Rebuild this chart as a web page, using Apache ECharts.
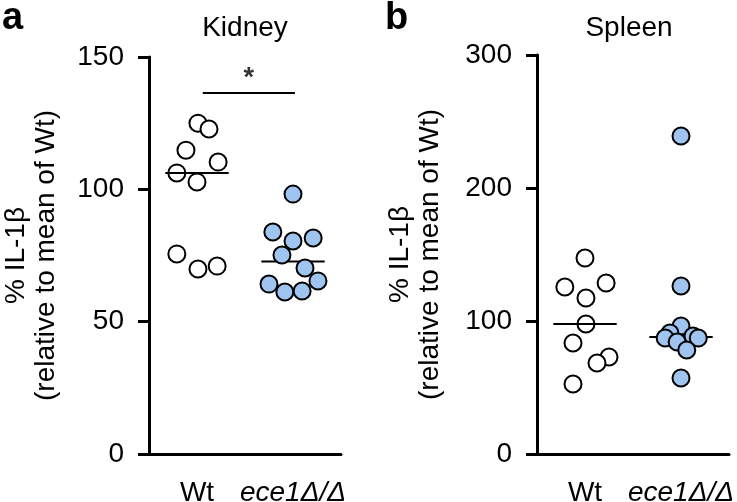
<!DOCTYPE html>
<html>
<head>
<meta charset="utf-8">
<script src="https://cdn.jsdelivr.net/npm/echarts@6/dist/echarts.min.js"></script>
<style>
  html, body { margin: 0; padding: 0; background: #fff; }
  #chart { width: 737px; height: 502px; }
</style>
</head>
<body>
<div id="chart"></div>
<script>
const groups = ['Wt', 'ece1Δ/Δ']

// Kidney (% IL-1β relative to mean of Wt)
const kidneyWt = [125.0, 122.8, 114.8, 110.3, 106.2, 102.8, 75.6, 69.9, 71.0]
const kidneyWtJitter = [0.01, 0.125, -0.115, 0.22, -0.21, 0, -0.21, 0.01, 0.21]
const kidneyKo = [98.2, 83.9, 80.5, 81.6, 75.2, 70.3, 64.2, 61.2, 61.6, 65.4]
const kidneyKoJitter = [0, -0.21, 0, 0.21, -0.115, 0.125, -0.25, -0.085, 0.095, 0.26]
const kidneyTicks = [0, 50, 100, 150]

// Spleen
const spleenWt = [147.4, 125.6, 128.6, 117.3, 97.7, 83.5, 72.9, 68.4, 52.6]
const spleenWtJitter = [0, -0.21, 0.22, 0.01, 0.01, -0.125, 0.25, 0.125, -0.125]
const spleenKo = [239.1, 126.3, 96.2, 91.0, 88.7, 87.2, 84.2, 87.2, 78.2, 57.1]
const spleenKoJitter = [0, 0, 0, -0.115, 0.125, -0.165, -0.04, 0.18, 0.06, 0]
const spleenTicks = [0, 100, 200, 300]

// significance bar between the kidney groups
const sigBar = { from: 0.06, to: 1.02, level: 136.4, text: '*' }

const FONT = 'Liberation Sans, Arial, Helvetica, sans-serif'
const BLUE = '#9fc4f0'

const median = (arr) => {
  const s = [...arr].sort((a, b) => a - b)
  const m = Math.floor(s.length / 2)
  return s.length % 2 ? s[m] : (s[m - 1] + s[m]) / 2
}

const points = (vals, jitter, idx) => vals.map((v, i) => [idx + jitter[i], v])

const yAxisBase = (ticks, gridIndex, nameGap) => ({
  type: 'value',
  gridIndex,
  min: ticks[0],
  max: ticks[ticks.length - 1],
  interval: ticks[1] - ticks[0],
  name: '% IL-1β\n(relative to mean of Wt)',
  nameLocation: 'middle',
  nameRotate: 90,
  nameGap,
  nameTextStyle: { fontFamily: FONT, fontSize: 28, lineHeight: 30, color: '#000' },
  axisLine: { show: true, onZero: false, lineStyle: { color: '#000', width: 3 } },
  axisTick: { show: true, length: 11, lineStyle: { color: '#000', width: 3 } },
  axisLabel: { fontFamily: FONT, fontSize: 28, color: '#000', margin: 25 },
  splitLine: { show: false },
})

const catAxis = (gridIndex) => ({
  type: 'category',
  gridIndex,
  data: groups,
  axisLine: { onZero: false, lineStyle: { color: '#000', width: 3 } },
  axisTick: { alignWithLabel: true, length: 11, lineStyle: { color: '#000', width: 3 } },
  axisLabel: {
    interval: 0,
    hideOverlap: false,
    fontFamily: FONT,
    fontSize: 28,
    color: '#000',
    margin: 25,
    formatter: (v) => (v === 'Wt' ? v : '{i|' + v + '}'),
    rich: { i: { fontFamily: FONT, fontSize: 28, fontStyle: 'italic', color: '#000' } },
  },
})

const valAxis = (gridIndex) => ({
  type: 'value',
  gridIndex,
  min: -0.5,
  max: 1.5,
  show: false,
})

const dotSeries = (data, xAxisIndex, yAxisIndex, fill, z) => ({
  type: 'scatter',
  xAxisIndex,
  yAxisIndex,
  data,
  symbol: 'circle',
  symbolSize: 17,
  z,
  itemStyle: { color: fill, borderColor: '#000', borderWidth: 2, opacity: 1 },
  emphasis: { disabled: true },
})

const medianSeries = (data, xAxisIndex, yAxisIndex) => ({
  type: 'custom',
  xAxisIndex,
  yAxisIndex,
  z: 3,
  data,
  renderItem(params, api) {
    const c = api.coord([api.value(0), api.value(1)])
    const half = api.size([0.33, 0])[0]
    return {
      type: 'line',
      shape: { x1: c[0] - half, y1: c[1], x2: c[0] + half, y2: c[1] },
      style: { stroke: '#000', lineWidth: 2 },
    }
  },
})

const chart = echarts.init(document.getElementById('chart'))
chart.setOption({
  animation: false,
  backgroundColor: '#fff',
  textStyle: { fontFamily: FONT },
  graphic: [
    { type: 'text', left: 2, top: 0, style: { text: 'a', font: 'bold 38px ' + FONT, fill: '#000' } },
    { type: 'text', left: 385, top: 0, style: { text: 'b', font: 'bold 38px ' + FONT, fill: '#000' } },
    { type: 'text', x: 245, y: 14, style: { text: 'Kidney', font: '28px ' + FONT, fill: '#000', textAlign: 'center' } },
    { type: 'text', x: 629, y: 14, style: { text: 'Spleen', font: '28px ' + FONT, fill: '#000', textAlign: 'center' } },
  ],
  grid: [
    { left: 149, width: 192, top: 57, bottom: 48, outerBoundsMode: 'none' },
    { left: 537, width: 192, top: 55, bottom: 48, outerBoundsMode: 'none' },
  ],
  xAxis: [catAxis(0), valAxis(0), catAxis(1), valAxis(1)],
  yAxis: [yAxisBase(kidneyTicks, 0, 88), yAxisBase(spleenTicks, 1, 92)],
  series: [
    dotSeries(points(kidneyWt, kidneyWtJitter, 0), 1, 0, '#fff', 2),
    medianSeries([[0, median(kidneyWt)], [1, median(kidneyKo)]], 1, 0),
    dotSeries(points(kidneyKo, kidneyKoJitter, 1), 1, 0, BLUE, 4),
    {
      type: 'line',
      xAxisIndex: 1,
      yAxisIndex: 0,
      data: [[sigBar.from, sigBar.level], [sigBar.to, sigBar.level]],
      symbol: 'none',
      lineStyle: { color: '#000', width: 2 },
      z: 3,
    },
    {
      type: 'scatter',
      xAxisIndex: 1,
      yAxisIndex: 0,
      data: [[(sigBar.from + sigBar.to) / 2, sigBar.level]],
      symbolSize: 0,
      label: {
        show: true, position: 'top', distance: 1, formatter: sigBar.text,
        fontFamily: FONT, fontSize: 27, fontWeight: 'bold', color: '#000',
      },
    },
    dotSeries(points(spleenWt, spleenWtJitter, 0), 3, 1, '#fff', 2),
    medianSeries([[0, median(spleenWt)], [1, median(spleenKo)]], 3, 1),
    dotSeries(points(spleenKo, spleenKoJitter, 1), 3, 1, BLUE, 4),
  ],
})
</script>
</body>
</html>
